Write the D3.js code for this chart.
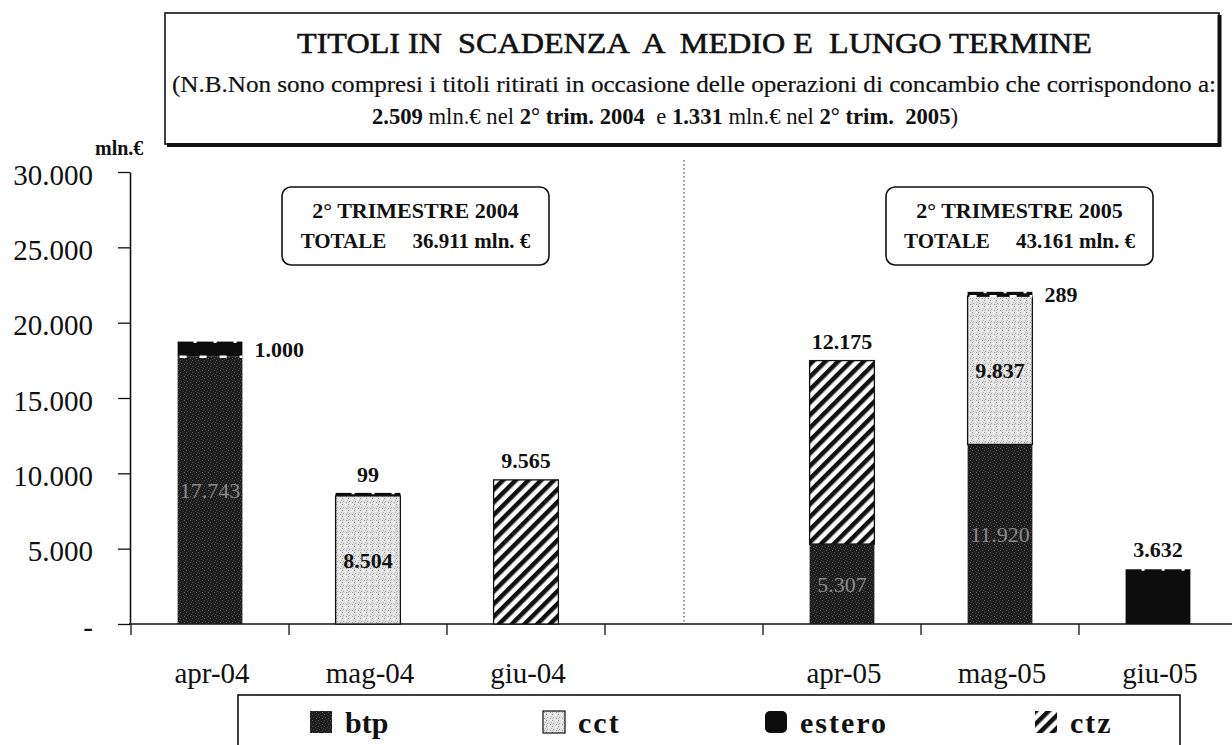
<!DOCTYPE html>
<html><head><meta charset="utf-8">
<script src="https://cdn.jsdelivr.net/npm/d3@7"></script>
<style>
body{margin:0;background:#fff}
svg{display:block}
svg text{font-family:"Liberation Serif","Times New Roman",serif;fill:#111}
</style>
</head><body>
<svg id="c" width="1232" height="745" font-family="Liberation Serif, serif"></svg>
<script>
// ---------- data ----------
const categories = ["apr-04","mag-04","giu-04","","apr-05","mag-05","giu-05"];
const btp    = [17743, 0, 0, 0, 5307, 11920, 0];
const cct    = [0, 8504, 0, 0, 0, 9837, 0];
const ctz    = [0, 0, 9565, 0, 12175, 0, 0];
const estero = [1000, 99, 0, 0, 0, 289, 3632];
const stackKeys = ["btp","cct","ctz","estero"];
const legendKeys = ["btp","cct","estero","ctz"];
const yTicks = [0, 5000, 10000, 15000, 20000, 25000, 30000];
const yTickLabels = ["-","5.000","10.000","15.000","20.000","25.000","30.000"];
const titleLine1 = "TITOLI IN  SCADENZA  A  MEDIO E  LUNGO TERMINE";
const titleLine2 = "(N.B.Non sono compresi i titoli ritirati in occasione delle operazioni di concambio che corrispondono a:";
const titleLine3 = [["2.509",true],[" mln.€ nel ",false],["2° trim. 2004",true],["  e ",false],["1.331",true],[" mln.€ nel ",false],["2° trim.  2005",true],[")",false]];
const boxes = [
  {line1:"2° TRIMESTRE 2004", label:"TOTALE", total:"36.911 mln. €"},
  {line1:"2° TRIMESTRE 2005", label:"TOTALE", total:"43.161 mln. €"}
];

const fmt = d3.formatLocale({decimal:",", thousands:".", grouping:[3], currency:["","€"]}).format(",");

const svg = d3.select("#c");
const defs = svg.append("defs");

// patterns
const pB = defs.append("pattern").attr("id","pat-btp").attr("width",6).attr("height",6).attr("patternUnits","userSpaceOnUse");
pB.append("rect").attr("width",6).attr("height",6).attr("fill","#1c1c1c");
[[0,0,"#555"],[3,1,"#3d3d3d"],[1,3,"#4a4a4a"],[4,4,"#5e5e5e"],[2,5,"#333"],[5,2,"#444"]].forEach(d=>
  pB.append("rect").attr("x",d[0]).attr("y",d[1]).attr("width",1).attr("height",1).attr("fill",d[2]));
const pC = defs.append("pattern").attr("id","pat-cct").attr("width",6).attr("height",6).attr("patternUnits","userSpaceOnUse");
pC.append("rect").attr("width",6).attr("height",6).attr("fill","#e2e2e2");
[[0,0,"#8a8a8a"],[3,1,"#ffffff"],[1,3,"#a0a0a0"],[4,4,"#9a9a9a"],[2,5,"#fafafa"],[5,2,"#b5b5b5"],[4,0,"#fff"],[0,4,"#c0c0c0"]].forEach(d=>
  pC.append("rect").attr("x",d[0]).attr("y",d[1]).attr("width",1).attr("height",1).attr("fill",d[2]));
const pZ = defs.append("pattern").attr("id","pat-ctz").attr("width",9).attr("height",9)
  .attr("patternUnits","userSpaceOnUse").attr("patternTransform","rotate(45)");
pZ.append("rect").attr("width",9).attr("height",9).attr("fill","#fff");
pZ.append("rect").attr("width",4.5).attr("height",9).attr("fill","#111");
const fills = {btp:"url(#pat-btp)", cct:"url(#pat-cct)", ctz:"url(#pat-ctz)", estero:"#0c0c0c"};

// ---------- scales ----------
const ids = categories.map((c,i)=>String(i));
const x = d3.scaleBand().domain(ids).range([131,1237]).paddingInner(0.59).paddingOuter(0.295);
const y = d3.scaleLinear().domain([0,30000]).range([624,172]);

// ---------- title box ----------
const tb = svg.append("g");
tb.append("rect").attr("x",165).attr("y",13).attr("width",1054).attr("height",131)
  .attr("fill","#fff").attr("stroke","#111").attr("stroke-width",1.6);
tb.append("line").attr("x1",167).attr("x2",1221).attr("y1",145).attr("y2",145).attr("stroke","#111").attr("stroke-width",4);
tb.append("line").attr("x1",1219.5).attr("x2",1219.5).attr("y1",15).attr("y2",147).attr("stroke","#111").attr("stroke-width",4);
tb.append("text").attr("x",297).attr("y",53).attr("font-size",30).attr("textLength",795)
  .attr("lengthAdjust","spacingAndGlyphs").style("white-space","pre")
  .attr("stroke","#111").attr("stroke-width",0.6).text(titleLine1);
tb.append("text").attr("x",172).attr("y",92).attr("font-size",24).attr("textLength",1044)
  .attr("lengthAdjust","spacingAndGlyphs").attr("stroke","#111").attr("stroke-width",0.2).text(titleLine2);
const t3 = tb.append("text").attr("x",372).attr("y",124).attr("font-size",23).attr("textLength",586)
  .attr("lengthAdjust","spacingAndGlyphs").style("white-space","pre");
titleLine3.forEach(p=>t3.append("tspan").attr("font-weight",p[1]?"bold":"normal").text(p[0]));

svg.append("text").attr("x",95).attr("y",155).attr("font-size",20).attr("font-weight","bold").text("mln.€");

// ---------- divider ----------
const midX = x("3") + x.bandwidth()/2;
svg.append("line").attr("x1",midX).attr("x2",midX).attr("y1",y(30000)-12).attr("y2",y(0))
  .attr("stroke","#333").attr("stroke-width",1).attr("stroke-dasharray","1.5,2.5");

// ---------- axes ----------
const yAxis = svg.append("g").attr("transform","translate(130,0)")
  .call(d3.axisLeft(y).tickValues(yTicks).tickFormat((d,i)=>yTickLabels[i]).tickSize(12).tickSizeOuter(0).tickPadding(25));
yAxis.attr("font-family","Liberation Serif, serif");
yAxis.select(".domain").attr("stroke","#111").attr("stroke-width",1.6);
yAxis.selectAll(".tick line").attr("stroke","#111").attr("stroke-width",1.3);
yAxis.selectAll(".tick text").attr("font-size",29).attr("fill","#111").attr("dy","0.42em");

svg.append("line").attr("x1",129).attr("x2",1232).attr("y1",y(0)).attr("y2",y(0)).attr("stroke","#111").attr("stroke-width",1.6);
const gap = (x.step()-x.bandwidth())/2;
const bounds = ids.map(id=>x(id)-gap);
svg.append("g").selectAll("line").data(bounds).join("line")
  .attr("x1",d=>d).attr("x2",d=>d).attr("y1",y(0)).attr("y2",y(0)+11).attr("stroke","#111").attr("stroke-width",1.3);
svg.append("g").selectAll("text").data(ids).join("text")
  .attr("x",d=>x(d)+x.bandwidth()/2+2).attr("y",683).attr("text-anchor","middle").attr("font-size",29)
  .text((d,i)=>categories[i]);

// ---------- bars ----------
const table = categories.map((c,i)=>({id:ids[i], btp:btp[i], cct:cct[i], ctz:ctz[i], estero:estero[i]}));
const stacked = d3.stack().keys(stackKeys)(table);
const gBars = svg.append("g");
stacked.forEach(layer=>{
  const key = layer.key;
  layer.forEach(seg=>{
    const v = seg.data[key];
    if(!v) return;
    const bx = x(seg.data.id), bw = x.bandwidth();
    let top = y(seg[1]), bot = y(seg[0]);
    if(bot-top<3) top = bot-3;
    gBars.append("rect").attr("x",bx).attr("y",top).attr("width",bw).attr("height",bot-top)
      .attr("fill",fills[key])
      .attr("stroke", (key==="cct"||key==="ctz")?"#111":"none").attr("stroke-width",1.3);
    if(key==="estero"){
      gBars.append("line").attr("x1",bx).attr("x2",bx+bw).attr("y1",top+0.5).attr("y2",top+0.5)
        .attr("stroke","#fff").attr("stroke-width",2).attr("stroke-dasharray","3,17").attr("stroke-dashoffset",-16);
      if(seg[0]>0 && seg.data.btp>0){
        gBars.append("line").attr("x1",bx).attr("x2",bx+bw).attr("y1",bot).attr("y2",bot)
          .attr("stroke","#fff").attr("stroke-width",2.5).attr("stroke-dasharray","7,13").attr("stroke-dashoffset",-2);
      }
    }
  });
});

// ---------- value labels ----------
const gLab = svg.append("g").attr("font-weight","bold").attr("font-size",22);
stacked.forEach(layer=>{
  const key = layer.key;
  layer.forEach(seg=>{
    const v = seg.data[key];
    if(!v) return;
    const cx = x(seg.data.id)+x.bandwidth()/2;
    const top = y(seg[1]), bot = y(seg[0]);
    let t = gLab.append("text").text(fmt(v));
    if(key==="btp"){
      t.attr("x",cx).attr("y",(top+bot)/2).attr("dy","0.35em").attr("text-anchor","middle")
       .style("fill","#8a8a8a").attr("font-weight","normal");
    } else if(key==="cct"){
      t.attr("x",cx).attr("y",(top+bot)/2).attr("dy","0.35em").attr("text-anchor","middle");
    } else if(key==="estero" && seg.data.btp>0){
      t.attr("x",x(seg.data.id)+x.bandwidth()+12).attr("y",(top+bot)/2).attr("dy","0.35em");
    } else {
      t.attr("x",cx).attr("y",top-12).attr("text-anchor","middle");
    }
  });
});

// ---------- info boxes ----------
const boxLeft = [282, 886];
boxes.forEach((b,i)=>{
  const w = 267, x0 = boxLeft[i], cx = x0 + w/2;
  const g = svg.append("g");
  g.append("rect").attr("x",x0).attr("y",187).attr("width",w).attr("height",78).attr("rx",9)
    .attr("fill","#fff").attr("stroke","#111").attr("stroke-width",1.6);
  g.append("text").attr("x",cx).attr("y",218).attr("text-anchor","middle").attr("font-size",22)
    .attr("font-weight","bold").text(b.line1);
  g.append("text").attr("x",cx).attr("y",248).attr("text-anchor","middle").attr("font-size",21)
    .attr("font-weight","bold").style("white-space","pre").text(b.label + "     " + b.total);
});

// ---------- legend ----------
const lg = svg.append("g");
lg.append("rect").attr("x",238).attr("y",695).attr("width",942).attr("height",70)
  .attr("fill","#fff").attr("stroke","#111").attr("stroke-width",1.6);
const legPos = {btp:310, cct:543, estero:765, ctz:1035};
legendKeys.forEach(k=>{
  const lx = legPos[k];
  lg.append("rect").attr("x",lx).attr("y",711).attr("width",22).attr("height",22)
    .attr("fill",fills[k]).attr("stroke",k==="cct"?"#111":"none").attr("stroke-width",1.2)
    .attr("rx",k==="estero"?5:0);
  lg.append("text").attr("x",lx+35).attr("y",733).attr("font-size",30).attr("font-weight","bold")
    .attr("letter-spacing",k==="btp"?0:2).text(k);
});
</script>
</body></html>
